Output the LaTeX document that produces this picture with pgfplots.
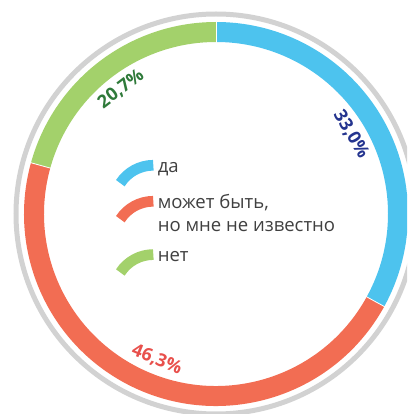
\documentclass[border=0pt]{standalone}
\usepackage{fontspec}
\setmainfont{Open Sans}
\usepackage{pgfplots}
\pgfplotsset{compat=1.18}
\usepackage{pgfplotstable}
\usetikzlibrary{calc}
\definecolor{cBlue}{HTML}{4DC3EE}
\definecolor{cOrange}{HTML}{F26D53}
\definecolor{cGreen}{HTML}{A3D16B}
\definecolor{cRing}{HTML}{D2D2D2}
\definecolor{tBlue}{HTML}{24348F}
\definecolor{tRed}{HTML}{E8504C}
\definecolor{tGreen}{HTML}{2F7A3A}
\definecolor{tGray}{HTML}{404040}

\pgfplotstableread{
key value
da 33.0
maybe 46.3
net 20.7
}\piedata

\begin{document}
\begin{tikzpicture}
\useasboundingbox (0,0) rectangle (305.25pt,310.5pt);
\clip (0,0) rectangle (305.25pt,310.5pt);
\pgfplotstablegetelem{0}{value}\of\piedata \let\vA\pgfplotsretval
\pgfplotstablegetelem{1}{value}\of\piedata \let\vB\pgfplotsretval
\pgfplotstablegetelem{2}{value}\of\piedata \let\vC\pgfplotsretval
\pgfmathsetmacro\aA{90}
\pgfmathsetmacro\bA{\aA-3.6*\vA}
\pgfmathsetmacro\aB{\bA}
\pgfmathsetmacro\bB{\aB-3.6*\vB}
\pgfmathsetmacro\aC{\bB}
\pgfmathsetmacro\bC{\aC-3.6*\vC}
\pgfmathsetmacro\mA{(\aA+\bA)/2}
\pgfmathsetmacro\mB{(\aB+\bB)/2}
\pgfmathsetmacro\mC{(\aC+\bC)/2}
\pgfmathsetmacro\rA{sin(\mA)>=0 ? \mA-90 : \mA+90}
\pgfmathsetmacro\rB{sin(\mB)>=0 ? \mB-90 : \mB+90}
\pgfmathsetmacro\rC{sin(\mC)>=0 ? \mC-90 : \mC+90}
\begin{axis}[
  hide axis, clip=false,
  x=0.75pt, y=0.75pt,
  xmin=0, xmax=407, ymin=0, ymax=414,
  anchor=south west, at={(0,0)},
]
% outer gray ring
\draw[cRing, line width=3.75pt] (axis cs:216,200) circle[radius=150pt];
% segments
\draw[cBlue, line width=15pt] (axis cs:216,200) ++(\aA:136.5pt) arc[start angle=\aA, end angle=\bA, radius=136.5pt];
\draw[cOrange, line width=15pt] (axis cs:216,200) ++(\aB:136.5pt) arc[start angle=\aB, end angle=\bB, radius=136.5pt];
\draw[cGreen, line width=15pt] (axis cs:216,200) ++(\aC:136.5pt) arc[start angle=\aC, end angle=\bC, radius=136.5pt];
% separators
\draw[white, line width=0.6pt] (axis cs:216,200) ++(\aA:127.5pt) -- ++(\aA:18pt);
\draw[white, line width=0.6pt] (axis cs:216,200) ++(\aB:127.5pt) -- ++(\aB:18pt);
\draw[white, line width=0.6pt] (axis cs:216,200) ++(\aC:127.5pt) -- ++(\aC:18pt);
% legend icons
\draw[cBlue, line width=8pt] (axis cs:153.3,209.4) ++(147:29.5pt) arc[start angle=147, end angle=90, radius=29.5pt];
\draw[cOrange, line width=8pt] (axis cs:153.3,173.4) ++(147:29.5pt) arc[start angle=147, end angle=90, radius=29.5pt];
\draw[cGreen, line width=8pt] (axis cs:153.3,120.1) ++(147:29.5pt) arc[start angle=147, end angle=90, radius=29.5pt];
\end{axis}
\begin{scope}[x=0.75pt, y=0.75pt]
% percentage labels
\node[rotate=\rA, text=tBlue, font=\bfseries\fontsize{13.5}{15}\selectfont, inner sep=0] at ($(216,200)+(\mA:157)$) {\pgfmathprintnumber[fixed,fixed zerofill,precision=1,use comma,assume math mode=true]{\vA}\%};
\node[rotate=\rB, text=tRed, font=\bfseries\fontsize{13.5}{15}\selectfont, inner sep=0] at ($(216,200)+(\mB:157)$) {\pgfmathprintnumber[fixed,fixed zerofill,precision=1,use comma,assume math mode=true]{\vB}\%};
\node[rotate=\rC, text=tGreen, font=\bfseries\fontsize{13.5}{15}\selectfont, inner sep=0] at ($(216,200)+(\mC:157)$) {\pgfmathprintnumber[fixed,fixed zerofill,precision=1,use comma,assume math mode=true]{\vC}\%};
% legend texts
\begin{scope}[every node/.style={anchor=base west, inner sep=0, text=tGray, font=\fontsize{13.9}{16}\selectfont}]
\node at (157.5,241.3) {да};
\node at (157.5,205.7) {может быть,};
\node at (157.5,182.3) {но мне не известно};
\node at (157.5,152.6) {нет};
\end{scope}
\end{scope}
\end{tikzpicture}
\end{document}
